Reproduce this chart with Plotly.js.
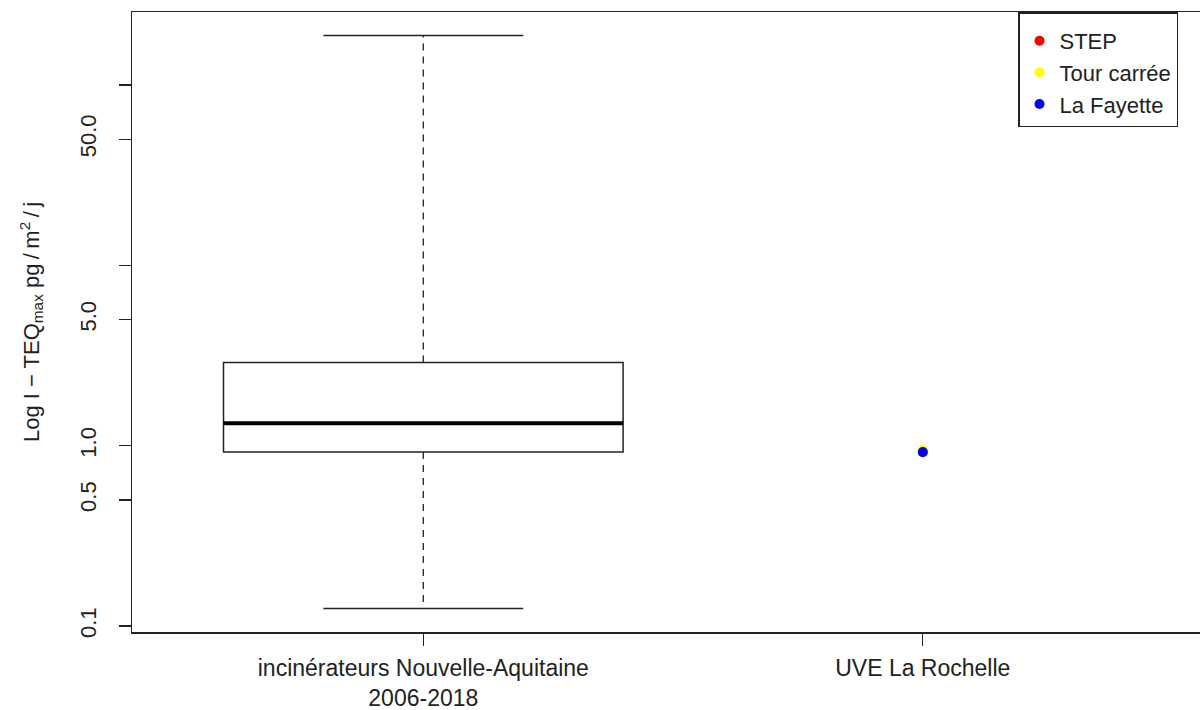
<!DOCTYPE html>
<html>
<head>
<meta charset="utf-8">
<script src="https://cdn.plot.ly/plotly-3.0.1.min.js"></script>
<style>html,body{margin:0;padding:0;background:#fff;}#chart{width:1200px;height:710px;}</style>
</head>
<body>
<div id="chart"></div>
<script>
// ---- data ----
const categories = ["incinérateurs Nouvelle-Aquitaine<br>2006-2018", "UVE La Rochelle"];
const categoryPositions = [1, 2];
const lowerWhisker = [0.125];
const q1 = [0.923];
const median = [1.33];
const q3 = [2.89];
const upperWhisker = [188];
const sites = ["STEP", "Tour carrée", "La Fayette"];
const siteValues = [0.92, 0.947, 0.923];
const siteColors = ["#FF0000", "#FFFF00", "#0000FF"];
const yTickValues = [0.1, 0.5, 1, 5, 10, 50, 100];
const yTickLabels = ["0.1", "0.5", "1.0", "5.0", "", "50.0", ""];

// ---- styling ----
const FONT = "Liberation Sans, Arial, Helvetica, sans-serif";
const LINE = "#222";
const BOX_W = 0.8;
const xb = categoryPositions[0];

const traces = [];

// box (q1, median, q3)
traces.push({
  type: "box",
  x: [xb],
  q1: q1, median: median, q3: q3,
  lowerfence: q1, upperfence: q3,
  width: BOX_W,
  whiskerwidth: 0,
  boxpoints: false,
  fillcolor: "rgba(255,255,255,0)",
  line: {color: LINE, width: 1.5},
  showlegend: false,
  hoverinfo: "skip"
});

// dashed whiskers
traces.push({
  type: "scatter", mode: "lines",
  x: [xb, xb, null, xb, xb],
  y: [q3[0], upperWhisker[0], null, q1[0], lowerWhisker[0]],
  line: {color: LINE, width: 1.3, dash: "7px,6px"},
  showlegend: false, hoverinfo: "skip"
});

// whisker caps
traces.push({
  type: "scatter", mode: "lines",
  x: [xb - BOX_W / 4, xb + BOX_W / 4, null, xb - BOX_W / 4, xb + BOX_W / 4],
  y: [upperWhisker[0], upperWhisker[0], null, lowerWhisker[0], lowerWhisker[0]],
  line: {color: LINE, width: 1.5},
  showlegend: false, hoverinfo: "skip"
});

// thick median
traces.push({
  type: "scatter", mode: "lines",
  x: [xb - BOX_W / 2, xb + BOX_W / 2],
  y: [median[0], median[0]],
  line: {color: "#000", width: 4},
  showlegend: false, hoverinfo: "skip"
});

// site points
sites.forEach((s, i) => {
  traces.push({
    type: "scatter", mode: "markers",
    name: s,
    x: [categoryPositions[1]],
    y: [siteValues[i]],
    marker: {color: siteColors[i], size: 10, line: {width: 0}},
    hoverinfo: "skip"
  });
});

const plotLeft = 132, plotRight = 1200, plotTop = 12, plotBottom = 632.5;

const layout = {
  width: 1200, height: 710,
  paper_bgcolor: "#fff", plot_bgcolor: "#fff",
  margin: {l: plotLeft, r: 1200 - plotRight, t: plotTop, b: 710 - plotBottom, pad: 0},
  font: {family: FONT, size: 22, color: "#222"},
  showlegend: true,
  legend: {
    x: (1018 - plotLeft) / (plotRight - plotLeft), xanchor: "left",
    y: 1, yanchor: "top",
    bordercolor: "#222", borderwidth: 1.5,
    bgcolor: "#fff",
    font: {family: FONT, size: 22, color: "#222"},
    title: {text: "\u00a0", font: {size: 5}},
    itemclick: false
  },
  xaxis: {
    type: "linear",
    range: [0.4168, 2.555],
    tickvals: categoryPositions,
    ticktext: categories,
    ticks: "outside", ticklen: 12, tickwidth: 1.3, tickcolor: LINE,
    showline: true, linecolor: LINE, linewidth: 1.5, mirror: true,
    showgrid: false, zeroline: false,
    tickfont: {family: FONT, size: 23, color: "#222"},
    ticklabelstandoff: 3
  },
  yaxis: {
    type: "log",
    range: [-1.033, 2.404],
    tickvals: yTickValues,
    ticktext: yTickLabels,
    tickangle: -90,
    ticks: "outside", ticklen: 12, tickwidth: 1.3, tickcolor: LINE,
    showline: true, linecolor: LINE, linewidth: 1.5, mirror: false,
    showgrid: false, zeroline: false,
    tickfont: {family: FONT, size: 22, color: "#222"},
    ticklabelstandoff: 14,
    title: {
      text: "Log I \u2212 TEQ<sub>max</sub> pg\u2009/\u2009m<sup>2</sup>\u2009/\u2009j",
      font: {family: FONT, size: 22, color: "#222"},
      standoff: 30
    }
  }
};

Plotly.newPlot("chart", traces, layout, {displayModeBar: false, staticPlot: true});
</script>
</body>
</html>
